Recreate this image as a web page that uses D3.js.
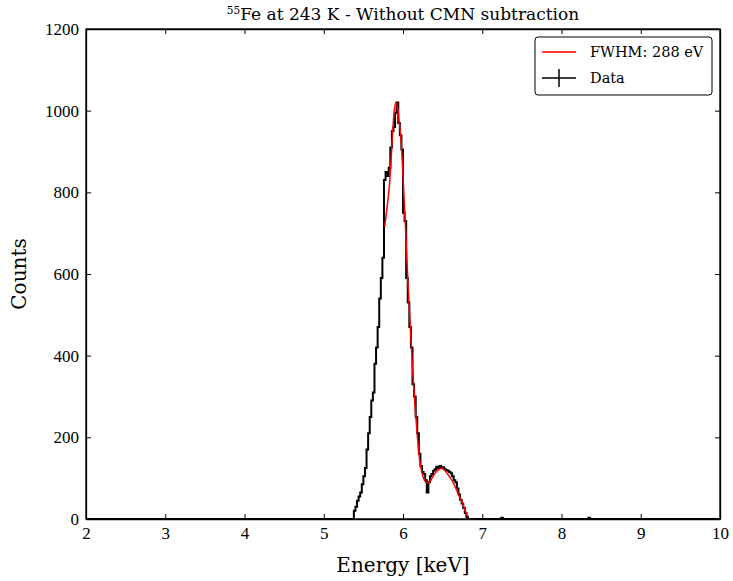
<!DOCTYPE html>
<html>
<head>
<meta charset="utf-8">
<script src="https://cdn.jsdelivr.net/npm/d3@7"></script>
<style>
  body { margin: 0; background: #fff; }
</style>
</head>
<body>
<script>
// bin left edges (keV) and counts of the histogram
var dataEnergy = [5.38, 5.40, 5.42, 5.44, 5.46, 5.48, 5.50, 5.52, 5.54, 5.56,
  5.58, 5.60, 5.62, 5.64, 5.66, 5.68, 5.70, 5.72, 5.74, 5.76,
  5.78, 5.80, 5.82, 5.84, 5.86, 5.88, 5.90, 5.92, 5.94, 5.96,
  5.98, 6.00, 6.02, 6.04, 6.06, 6.08, 6.10, 6.12, 6.14, 6.16,
  6.18, 6.20, 6.22, 6.24, 6.26, 6.28, 6.30, 6.32, 6.34, 6.36,
  6.38, 6.40, 6.42, 6.44, 6.46, 6.48, 6.50, 6.52, 6.54, 6.56,
  6.58, 6.60, 6.62, 6.64, 6.66, 6.68, 6.70, 6.72, 6.74, 6.76,
  6.78, 6.80, 6.82,
  7.24, 7.26, 8.34, 8.36];
var dataCounts = [20, 30, 45, 55, 65, 85, 105, 125, 170, 210,
  250, 290, 310, 380, 420, 470, 540, 590, 640, 830,
  850, 840, 860, 910, 950, 960, 995, 1020, 970, 940,
  905, 750, 730, 590, 530, 470, 420, 330, 300, 250,
  210, 160, 130, 115, 110, 95, 65, 90, 105, 110,
  118, 122, 128, 125, 130, 125, 127, 122, 120, 118,
  115, 112, 105, 95, 90, 75, 60, 47, 38, 27,
  15, 5, 0,
  3, 0, 3, 0];

// fitted curve (FWHM 288 eV)
var fitEnergy = [5.77, 5.80, 5.83, 5.85, 5.87, 5.89, 5.91, 5.93, 5.95, 5.97,
  5.99, 6.01, 6.03, 6.06, 6.09, 6.12, 6.15, 6.18, 6.21, 6.24,
  6.27, 6.30, 6.33, 6.36, 6.39, 6.42, 6.45, 6.48, 6.51, 6.54,
  6.57, 6.60, 6.63, 6.66, 6.70, 6.73, 6.76, 6.79, 6.82];
var fitCounts = [716, 765, 820, 880, 950, 1000, 1020, 1010, 975, 940,
  880, 800, 720, 590, 480, 370, 280, 205, 145, 112,
  95, 89, 90, 98, 108, 116, 121, 124, 122, 116,
  108, 100, 90, 78, 60, 47, 34, 18, 5];

var xTicks = [2, 3, 4, 5, 6, 7, 8, 9, 10];
var yTicks = [0, 200, 400, 600, 800, 1000, 1200];
var legendLabels = ["FWHM: 288 eV", "Data"];

var W = 733, H = 581;
var margin = {left: 86, right: 13, top: 29, bottom: 62};
var serif = "'DejaVu Serif', serif";
var tickSerif = "'Liberation Serif', serif";

var svg = d3.select("body").append("svg")
    .attr("width", W).attr("height", H);

var x = d3.scaleLinear().domain([2, 10]).range([margin.left, W - margin.right]);
var y = d3.scaleLinear().domain([0, 1200]).range([H - margin.bottom, margin.top]);

// histogram steps, padded with zeros to both ends of the axis
var steps = [[2, 0], [dataEnergy[0], 0]];
dataEnergy.forEach(function(e, i) { steps.push([e, dataCounts[i]]); });
steps.push([10, 0]);

var stepLine = d3.line()
    .x(function(d) { return x(d[0]); })
    .y(function(d) { return y(d[1]); })
    .curve(d3.curveStepAfter);

svg.append("path")
    .datum(steps)
    .attr("d", stepLine)
    .attr("fill", "none")
    .attr("stroke", "#000")
    .attr("stroke-width", 2);

var fitLine = d3.line()
    .x(function(d, i) { return x(fitEnergy[i]); })
    .y(function(d) { return y(d); })
    .curve(d3.curveMonotoneX);

svg.append("path")
    .datum(fitCounts)
    .attr("d", fitLine)
    .attr("fill", "none")
    .attr("stroke", "#ff0000")
    .attr("stroke-width", 1.5);

// axes, ticks pointing inward on all four sides
var tickLen = 5;
function tickFont(g) {
  g.selectAll("text")
    .style("font-family", tickSerif)
    .style("font-size", "17px")
    .attr("fill", "#000");
}
svg.append("g")
    .attr("transform", "translate(0," + y(0) + ")")
    .call(d3.axisBottom(x).tickValues(xTicks).tickFormat(d3.format("d"))
      .tickSizeInner(-tickLen).tickSizeOuter(0).tickPadding(8))
    .call(tickFont);
svg.append("g")
    .attr("transform", "translate(0," + y(1200) + ")")
    .call(d3.axisTop(x).tickValues(xTicks).tickSizeInner(-tickLen).tickSizeOuter(0).tickFormat(""));
svg.append("g")
    .attr("transform", "translate(" + x(2) + ",0)")
    .call(d3.axisLeft(y).tickValues(yTicks).tickFormat(d3.format("d"))
      .tickSizeInner(-tickLen).tickSizeOuter(0).tickPadding(7))
    .call(tickFont);
svg.append("g")
    .attr("transform", "translate(" + x(10) + ",0)")
    .call(d3.axisRight(y).tickValues(yTicks).tickSizeInner(-tickLen).tickSizeOuter(0).tickFormat(""));

svg.selectAll(".domain").attr("stroke", "#000").attr("stroke-width", 1.3);
svg.selectAll(".tick line").attr("stroke", "#000");

// frame
svg.append("rect")
    .attr("x", x(2)).attr("y", y(1200))
    .attr("width", x(10) - x(2)).attr("height", y(0) - y(1200))
    .attr("fill", "none").attr("stroke", "#000").attr("stroke-width", 1.3);

// title with superscript
var title = svg.append("text")
    .attr("x", (x(2) + x(10)) / 2).attr("y", 20)
    .attr("text-anchor", "middle")
    .style("font-family", serif).style("font-size", "17px");
title.append("tspan").style("font-size", "10.5px").attr("dy", -6).text("55");
title.append("tspan").attr("dy", 6).text("Fe at 243 K - Without CMN subtraction");

svg.append("text")
    .attr("x", (x(2) + x(10)) / 2).attr("y", 572)
    .attr("text-anchor", "middle")
    .style("font-family", serif).style("font-size", "20px")
    .text("Energy [keV]");

svg.append("text")
    .attr("transform", "translate(26," + (y(0) + y(1200)) / 2 + ") rotate(-90)")
    .attr("text-anchor", "middle")
    .style("font-family", serif).style("font-size", "20px")
    .text("Counts");

// legend
var lg = svg.append("g").attr("transform", "translate(535,37)");
lg.append("rect")
    .attr("width", 177).attr("height", 58).attr("rx", 3)
    .attr("fill", "#fff").attr("stroke", "#000").attr("stroke-width", 1);
lg.append("line").attr("x1", 7).attr("x2", 41).attr("y1", 15).attr("y2", 15)
    .attr("stroke", "#ff0000").attr("stroke-width", 1.5);
lg.append("line").attr("x1", 7).attr("x2", 41).attr("y1", 41).attr("y2", 41)
    .attr("stroke", "#000").attr("stroke-width", 1.5);
lg.append("line").attr("x1", 24).attr("x2", 24).attr("y1", 32).attr("y2", 50)
    .attr("stroke", "#000").attr("stroke-width", 1.5);
lg.selectAll("text.lab").data(legendLabels).enter().append("text")
    .attr("class", "lab")
    .attr("x", 55).attr("y", function(d, i) { return 20 + i * 26; })
    .style("font-family", serif).style("font-size", "14.5px")
    .text(function(d) { return d; });
</script>
</body>
</html>
